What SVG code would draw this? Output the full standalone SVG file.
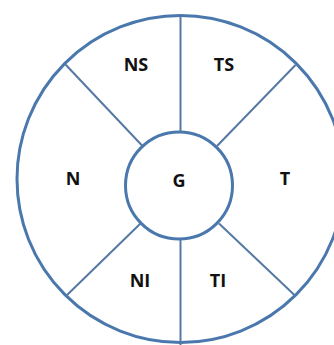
<svg xmlns="http://www.w3.org/2000/svg" width="334" height="345" viewBox="0 0 334 345">
<style>
.ring{fill:none;stroke:#4a78ad;stroke-width:3}
.spoke{stroke:#5579a3;stroke-width:2;fill:none}
.lbl{font-family:"Open Sans","Liberation Sans",sans-serif;font-weight:bold;font-size:18px;fill:#111;text-anchor:middle}
</style>
<rect width="334" height="345" fill="#fff"/>
<g id="outer"><circle class="ring" cx="180.5" cy="179" r="163.5"/></g>
<g id="connectors">
<line class="spoke" x1="180.5" y1="15.5" x2="180.5" y2="132"/>
<line class="spoke" x1="180.5" y1="239" x2="180.5" y2="345"/>
<line class="spoke" x1="65.5" y1="64.5" x2="142.5" y2="146"/>
<line class="spoke" x1="295.5" y1="65" x2="217" y2="146"/>
<line class="spoke" x1="66" y1="296" x2="140.5" y2="223.5"/>
<line class="spoke" x1="295.5" y1="296" x2="219" y2="223.5"/>
</g>
<g id="G"><circle class="ring" cx="179" cy="185.5" r="53.5" fill="#fff"/><text class="lbl" x="179" y="186.5">G</text></g>
<g id="NS"><text class="lbl" x="136" y="71">NS</text></g>
<g id="TS"><text class="lbl" x="224" y="71">TS</text></g>
<g id="N"><text class="lbl" x="73" y="184.5">N</text></g>
<g id="T"><text class="lbl" x="285" y="184.5">T</text></g>
<g id="NI"><text class="lbl" x="140" y="286.5">NI</text></g>
<g id="TI"><text class="lbl" x="218" y="286.5">TI</text></g>
</svg>
